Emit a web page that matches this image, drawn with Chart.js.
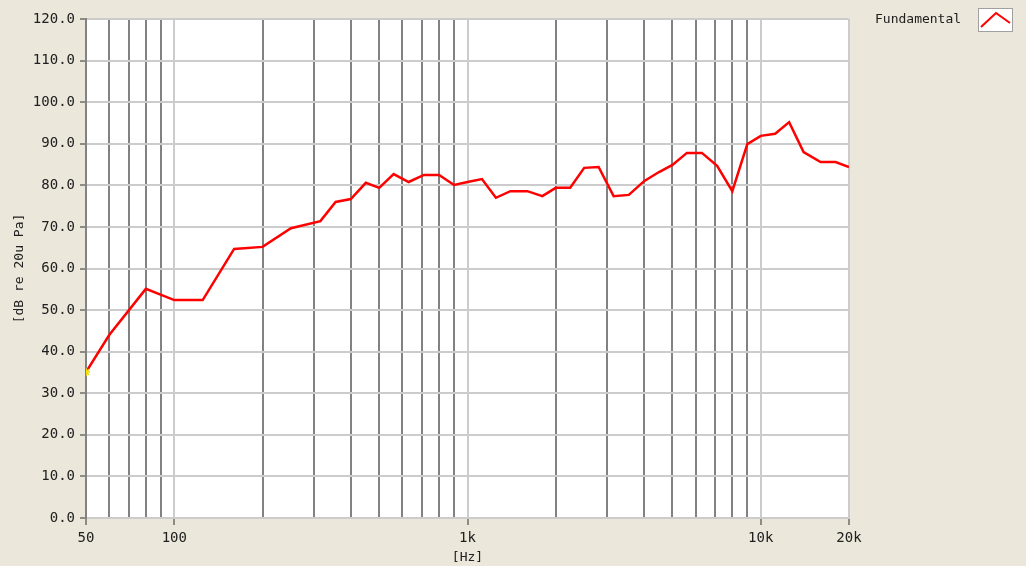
<!DOCTYPE html>
<html>
<head>
<meta charset="utf-8">
<script src="https://cdn.jsdelivr.net/npm/chart.js@4/dist/chart.umd.min.js"></script>
<style>
  html, body { margin: 0; padding: 0; background: #ECE7DB; }
  #wrap { width: 1026px; height: 566px; position: relative; }
</style>
</head>
<body>
<div id="wrap"><canvas id="fr"></canvas></div>
<script>
// frequency points (Hz)
const freqs = [50, 60, 80, 100, 125, 160, 200, 250, 315, 355, 400, 450, 500, 560, 630, 710, 800, 900,
  1000, 1120, 1250, 1400, 1600, 1800, 2000, 2240, 2500, 2800, 3150, 3550, 4000, 4500, 5000, 5600,
  6300, 7100, 8000, 9000, 10000, 11200, 12500, 14000, 16000, 18000, 20000];
// level in dB re 20uPa
const fundamental = [35.1, 44.0, 55.1, 52.4, 52.4, 64.7, 65.2, 69.7, 71.4, 76.0, 76.7, 80.6, 79.4, 82.7, 80.8, 82.5, 82.5, 80.1,
  80.8, 81.5, 77.0, 78.6, 78.6, 77.4, 79.4, 79.4, 84.2, 84.4, 77.4, 77.7, 81.0, 83.2, 84.9, 87.8,
  87.8, 84.7, 78.6, 89.9, 91.9, 92.4, 95.2, 88.0, 85.6, 85.6, 84.4];

const xGridTicks = [50, 60, 70, 80, 90, 100, 200, 300, 400, 500, 600, 700, 800, 900,
  1000, 2000, 3000, 4000, 5000, 6000, 7000, 8000, 9000, 10000, 20000];
const xTickLabels = { 50: "50", 100: "100", 1000: "1k", 10000: "10k", 20000: "20k" };
const decadeLines = [100, 1000, 10000, 20000];

const legendLabel = "Fundamental";
const FONT = "'DejaVu Sans Mono', monospace";

const plotBg = {
  id: "plotBg",
  beforeDraw(chart) {
    const a = chart.chartArea;
    const c = chart.ctx;
    c.save();
    c.fillStyle = "#ffffff";
    c.fillRect(a.left, a.top, a.right - a.left, a.bottom - a.top);
    c.restore();
  },
};

// the little legend box at the top right
const legendBox = {
  id: "legendBox",
  afterDraw(chart) {
    const c = chart.ctx;
    c.save();
    c.font = "13px " + FONT;
    c.fillStyle = "#202020";
    c.textBaseline = "middle";
    c.textAlign = "left";
    c.fillText(legendLabel, 875, 20);
    c.fillStyle = "#ffffff";
    c.fillRect(978.5, 8.5, 34, 23);
    c.strokeStyle = "#a0a0a0";
    c.lineWidth = 1;
    c.strokeRect(978.5, 8.5, 34, 23);
    c.strokeStyle = "#ff0000";
    c.lineWidth = 2;
    c.beginPath();
    c.moveTo(981, 27);
    c.lineTo(996, 13);
    c.lineTo(1010, 23);
    c.stroke();
    c.restore();
  },
};

const chart = new Chart(document.getElementById("fr"), {
  type: "line",
  data: {
    datasets: [
      {
        label: legendLabel,
        data: freqs.map((f, i) => ({ x: f, y: fundamental[i] })),
        borderColor: "#ff0000",
        borderWidth: 2.5,
        tension: 0,
        fill: false,
        pointStyle: "star",
        pointRadius: (ctx) => (ctx.dataIndex === 0 ? 4 : 0),
        pointBorderColor: "#f0e000",
        pointBackgroundColor: "#f0e000",
        pointBorderWidth: 1.5,
      },
    ],
  },
  options: {
    responsive: true,
    maintainAspectRatio: false,
    animation: false,
    layout: { padding: { left: 0, top: 19, right: 177, bottom: 0 } },
    plugins: {
      legend: { display: false },
      tooltip: { enabled: false },
    },
    scales: {
      x: {
        type: "logarithmic",
        min: 50,
        max: 20000,
        afterBuildTicks: (s) => {
          s.ticks = xGridTicks.map((v) => ({ value: v }));
        },
        afterFit: (s) => {
          s.height = 48;
        },
        ticks: {
          autoSkip: false,
          maxRotation: 0,
          padding: 5,
          color: "#202020",
          font: { family: FONT, size: 14 },
          callback: (v) => xTickLabels[v] || "",
        },
        grid: {
          lineWidth: 2,
          color: (ctx) => {
            const v = ctx.tick && ctx.tick.value;
            if (v === 50) return "rgba(0,0,0,0)";
            return decadeLines.includes(v) ? "#cccccc" : "#828282";
          },
          tickLength: 7,
          tickWidth: 1,
          tickColor: (ctx) => {
            const v = ctx.tick && ctx.tick.value;
            return xTickLabels[v] ? "#303030" : "rgba(0,0,0,0)";
          },
        },
        border: { color: "#cccccc", width: 2 },
        title: {
          display: true,
          text: "[Hz]",
          color: "#202020",
          font: { family: FONT, size: 13 },
          padding: { top: 0, bottom: 1 },
        },
      },
      y: {
        min: 0,
        max: 120,
        afterFit: (s) => {
          s.width = 86;
        },
        ticks: {
          stepSize: 10,
          padding: 5,
          color: "#202020",
          font: { family: FONT, size: 14 },
          callback: (v) => v.toFixed(1),
        },
        grid: {
          color: "#cccccc",
          lineWidth: 2,
          tickLength: 6,
          tickWidth: 1,
          tickColor: "#303030",
        },
        border: { color: "#828282", width: 2 },
        title: {
          display: true,
          text: "[dB re 20u Pa]",
          color: "#202020",
          font: { family: FONT, size: 13 },
          padding: { top: 12, bottom: 0 },
        },
      },
    },
  },
  plugins: [plotBg, legendBox],
});
</script>
</body>
</html>
